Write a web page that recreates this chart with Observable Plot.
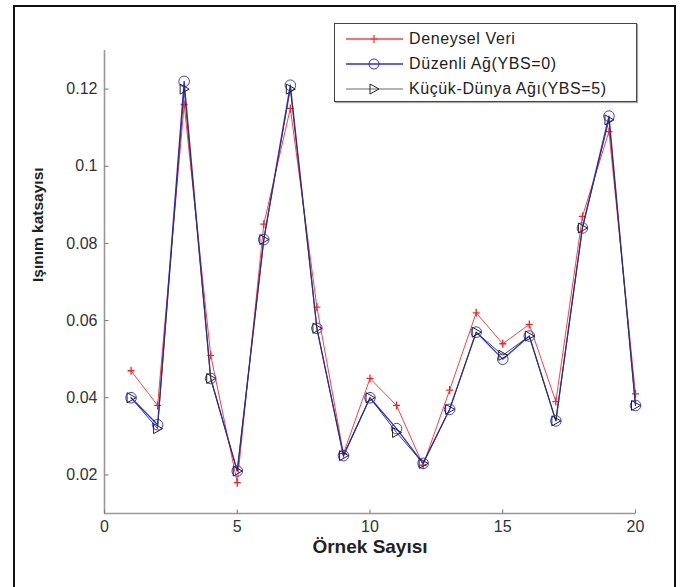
<!DOCTYPE html>
<html>
<head>
<meta charset="utf-8">
<script src="https://cdn.jsdelivr.net/npm/d3@7"></script>
<script src="https://cdn.jsdelivr.net/npm/@observablehq/plot@0.6"></script>
<style>
  html, body { margin: 0; padding: 0; background: #fff; }
  #wrap { position: relative; width: 681px; height: 587px; overflow: hidden; font-family: "Liberation Sans", Arial, sans-serif; }
  #frame { position: absolute; left: 13px; top: 5px; width: 663px; height: 600px; border: 2px solid #111; box-sizing: border-box; pointer-events: none; }
  #legend { position: absolute; left: 334px; top: 23px; width: 303px; height: 79px; border: 1px solid #444; background: #fff; box-sizing: border-box; box-shadow: 1px 1px 1px #aaa; }
  .row { position: absolute; left: 0; height: 20px; display: flex; align-items: center; }
  .row svg { margin-left: 11px; }
  .row span { margin-left: 6px; font-size: 16px; letter-spacing: 0.6px; color: #222; white-space: nowrap; }
</style>
</head>
<body>
<div id="wrap"><div id="chart"></div><div id="frame"></div><div id="legend"></div></div>
<script>
// ---- data ----
const sampleNo = [1, 2, 3, 4, 5, 6, 7, 8, 9, 10, 11, 12, 13, 14, 15, 16, 17, 18, 19, 20];
const deneysel = [0.047, 0.038, 0.116, 0.051, 0.018, 0.085, 0.115, 0.0635, 0.0255, 0.045, 0.038, 0.0225, 0.042, 0.062, 0.054, 0.059, 0.039, 0.087, 0.109, 0.041];
const duzenli  = [0.040, 0.033, 0.122, 0.045, 0.021, 0.081, 0.121, 0.058, 0.025, 0.040, 0.032, 0.023, 0.037, 0.057, 0.050, 0.056, 0.034, 0.084, 0.113, 0.038];
const kucuk    = [0.040, 0.032, 0.120, 0.045, 0.021, 0.081, 0.120, 0.058, 0.025, 0.040, 0.031, 0.023, 0.037, 0.057, 0.051, 0.056, 0.034, 0.084, 0.112, 0.038];
const seriesNames = ["Deneysel Veri", "Düzenli Ağ(YBS=0)", "Küçük-Dünya Ağı(YBS=5)"];
const xTicks = [0, 5, 10, 15, 20];
const yTicks = [0.02, 0.04, 0.06, 0.08, 0.1, 0.12];
const xLabel = "Örnek Sayısı";
const yLabel = "Işınım katsayısı";

const toRows = (vals) => sampleNo.map((x, i) => ({x, y: vals[i]}));
const red = toRows(deneysel), blue = toRows(duzenli), black = toRows(kucuk);

// custom marker symbols
const plusSym = {draw(c) { c.moveTo(-3.5, 0); c.lineTo(3.5, 0); c.moveTo(0, -4); c.lineTo(0, 4); }};
const triSym = {draw(c) { c.moveTo(-4, -5); c.lineTo(5, 0); c.lineTo(-4, 5); c.closePath(); }};
const circSym = {draw(c) { c.moveTo(5.3, 0); c.arc(0, 0, 5.3, 0, 2 * Math.PI); }};
const yTickSym = {draw(c) { c.moveTo(0, 0); c.lineTo(4, 0); }};
const xTickSym = {draw(c) { c.moveTo(0, 0); c.lineTo(0, -4); }};

const axisColor = "#999";
const chart = Plot.plot({
  width: 681,
  height: 587,
  marginLeft: 104,
  marginRight: 46,
  marginTop: 50,
  marginBottom: 74,
  style: {fontFamily: "'Liberation Sans', Arial, sans-serif", background: "transparent", overflow: "visible"},
  x: {domain: [0, 20]},
  y: {domain: [0.01, 0.13]},
  marks: [
    Plot.axisX(xTicks, {tickSize: 0, tickPadding: 7, fontSize: 16, color: "#333", label: null, tickFormat: d => String(d)}),
    Plot.axisY(yTicks, {tickSize: 0, tickPadding: 7, fontSize: 16, color: "#333", label: null, tickFormat: d => String(+d.toFixed(2))}),
    Plot.ruleX([0], {stroke: axisColor, strokeWidth: 1.6}),
    Plot.ruleY([0.01], {stroke: axisColor, strokeWidth: 1.6}),
    Plot.dot(yTicks, {x: 0, y: d => d, symbol: yTickSym, fill: "none", stroke: "#777", strokeWidth: 1}),
    Plot.dot(xTicks, {x: d => d, y: 0.01, symbol: xTickSym, fill: "none", stroke: "#777", strokeWidth: 1}),
    Plot.line(red, {x: "x", y: "y", stroke: "#ff4040", strokeWidth: 1}),
    Plot.dot(red, {x: "x", y: "y", symbol: plusSym, fill: "none", stroke: "#ff2020", strokeWidth: 1.3}),
    Plot.line(blue, {x: "x", y: "y", stroke: "#2a2aff", strokeWidth: 1.3}),
    Plot.dot(blue, {x: "x", y: "y", symbol: circSym, fill: "none", stroke: "#3a3aff", strokeWidth: 1}),
    Plot.line(black, {x: "x", y: "y", stroke: "#333", strokeWidth: 0.9}),
    Plot.dot(black, {x: "x", y: "y", symbol: triSym, fill: "none", stroke: "#222", strokeWidth: 1}),
    Plot.text([xLabel], {frameAnchor: "bottom", dy: 39, fontWeight: "bold", fontSize: 19, fill: "#222"}),
    Plot.text([yLabel], {frameAnchor: "left", dx: -66, rotate: -90, fontWeight: "bold", fontSize: 15.5, fill: "#222"})
  ]
});
document.getElementById("chart").appendChild(chart);

// legend
const legendItems = [
  {name: seriesNames[0], color: "#ff4040", width: 1.6, marker: "plus"},
  {name: seriesNames[1], color: "#2a2aff", width: 1.3, marker: "circle"},
  {name: seriesNames[2], color: "#555", width: 0.9, marker: "tri"}
];
const legend = document.getElementById("legend");
legendItems.forEach((it, i) => {
  const row = document.createElement("div");
  row.className = "row";
  row.style.top = (5 + i * 25) + "px";
  let m = "";
  if (it.marker === "plus") m = `<path d="M24.5,6H31.5M28,2V10" stroke="${it.color}" stroke-width="1.4" fill="none"/>`;
  if (it.marker === "circle") m = `<circle cx="28" cy="6" r="5" stroke="${it.color}" stroke-width="1" fill="none"/>`;
  if (it.marker === "tri") m = `<path d="M24,1L33,6L24,11Z" stroke="#222" stroke-width="1" fill="none"/>`;
  row.innerHTML = `<svg width="57" height="12"><line x1="0" y1="6" x2="57" y2="6" stroke="${it.color}" stroke-width="${it.width}"/>${m}</svg><span>${it.name}</span>`;
  legend.appendChild(row);
});
</script>
</body>
</html>
